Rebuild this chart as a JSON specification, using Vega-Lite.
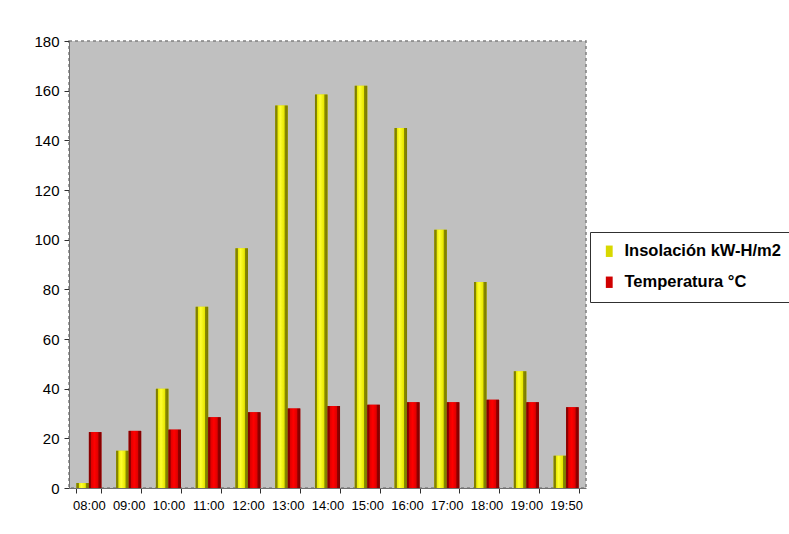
{
  "$schema": "https://vega.github.io/schema/vega-lite/v6.json",
  "width": 517,
  "height": 447,
  "autosize": "none",
  "padding": {"left": 69, "top": 41, "right": 203, "bottom": 46},
  "background": "white",
  "config": {
    "font": "Liberation Sans",
    "view": {"fill": "#C0C0C0", "stroke": "#808080", "strokeDash": [3, 3], "strokeWidth": 1.5},
    "axis": {"labelFont": "Liberation Sans", "labelColor": "black", "domainColor": "#707070", "tickColor": "#303030", "grid": false, "title": null}
  },
  "data": {"values": [
    {"hora": "08:00", "serie": "Insolación kW-H/m2", "valor": 2},
    {"hora": "09:00", "serie": "Insolación kW-H/m2", "valor": 15},
    {"hora": "10:00", "serie": "Insolación kW-H/m2", "valor": 40},
    {"hora": "11:00", "serie": "Insolación kW-H/m2", "valor": 73},
    {"hora": "12:00", "serie": "Insolación kW-H/m2", "valor": 96.5},
    {"hora": "13:00", "serie": "Insolación kW-H/m2", "valor": 154},
    {"hora": "14:00", "serie": "Insolación kW-H/m2", "valor": 158.5},
    {"hora": "15:00", "serie": "Insolación kW-H/m2", "valor": 162},
    {"hora": "16:00", "serie": "Insolación kW-H/m2", "valor": 145},
    {"hora": "17:00", "serie": "Insolación kW-H/m2", "valor": 104},
    {"hora": "18:00", "serie": "Insolación kW-H/m2", "valor": 83},
    {"hora": "19:00", "serie": "Insolación kW-H/m2", "valor": 47},
    {"hora": "19:50", "serie": "Insolación kW-H/m2", "valor": 13},
    {"hora": "08:00", "serie": "Temperatura °C", "valor": 22.5},
    {"hora": "09:00", "serie": "Temperatura °C", "valor": 23},
    {"hora": "10:00", "serie": "Temperatura °C", "valor": 23.5},
    {"hora": "11:00", "serie": "Temperatura °C", "valor": 28.5},
    {"hora": "12:00", "serie": "Temperatura °C", "valor": 30.5},
    {"hora": "13:00", "serie": "Temperatura °C", "valor": 32},
    {"hora": "14:00", "serie": "Temperatura °C", "valor": 33},
    {"hora": "15:00", "serie": "Temperatura °C", "valor": 33.5},
    {"hora": "16:00", "serie": "Temperatura °C", "valor": 34.5},
    {"hora": "17:00", "serie": "Temperatura °C", "valor": 34.5},
    {"hora": "18:00", "serie": "Temperatura °C", "valor": 35.5},
    {"hora": "19:00", "serie": "Temperatura °C", "valor": 34.5},
    {"hora": "19:50", "serie": "Temperatura °C", "valor": 32.5}
  ]},
  "encoding": {
    "x": {"field": "hora", "type": "nominal", "sort": null,
          "scale": {"paddingInner": 0.37, "paddingOuter": 0.185},
          "axis": {"labelAngle": 0, "labelFontSize": 13, "tickBand": "extent", "tickSize": 5, "labelPadding": 6, "domainColor": "#707070"}},
    "xOffset": {"field": "serie", "type": "nominal", "scale": {"paddingInner": 0, "paddingOuter": 0}},
    "y": {"field": "valor", "type": "quantitative",
          "scale": {"domain": [0, 180], "nice": false},
          "axis": {"values": [0, 20, 40, 60, 80, 100, 120, 140, 160, 180], "labelFontSize": 15, "tickSize": 5, "labelPadding": 5}}
  },
  "layer": [
    {
      "mark": {"type": "bar"},
      "encoding": {
        "color": {"field": "serie", "type": "nominal",
                  "scale": {"domain": ["Insolación kW-H/m2", "Temperatura °C"], "range": ["#D8D800", "#D00000"]},
                  "legend": {"title": null, "orient": "none", "legendX": 521, "legendY": 191,
                             "strokeColor": "#303030", "fillColor": "white", "padding": 11,
                             "labelFontSize": 16.5, "labelFontWeight": "bold", "labelColor": "black",
                             "labelFont": "Liberation Sans", "labelLimit": 400,
                             "symbolType": "M-0.6,-1L0.6,-1L0.6,1L-0.6,1Z", "symbolSize": 130, "symbolStrokeWidth": 0,
                             "rowPadding": 14, "labelOffset": 7}}
      }
    },
    {
      "transform": [{"filter": "datum.serie === 'Insolación kW-H/m2'"}],
      "mark": {"type": "bar", "fill": {"gradient": "linear", "x1": 0, "x2": 1, "y1": 0, "y2": 0,
        "stops": [
          {"offset": 0, "color": "#787800"},
          {"offset": 0.17, "color": "#8a8a00"},
          {"offset": 0.2, "color": "#e8e800"},
          {"offset": 0.4, "color": "#ffff30"},
          {"offset": 0.72, "color": "#e8e800"},
          {"offset": 0.78, "color": "#8a8a00"},
          {"offset": 1, "color": "#787800"}
        ]}}
    },
    {
      "transform": [{"filter": "datum.serie === 'Temperatura °C'"}],
      "mark": {"type": "bar", "fill": {"gradient": "linear", "x1": 0, "x2": 1, "y1": 0, "y2": 0,
        "stops": [
          {"offset": 0, "color": "#800000"},
          {"offset": 0.15, "color": "#900000"},
          {"offset": 0.2, "color": "#e00000"},
          {"offset": 0.45, "color": "#ff0000"},
          {"offset": 0.72, "color": "#e00000"},
          {"offset": 0.8, "color": "#900000"},
          {"offset": 1, "color": "#800000"}
        ]}}
    }
  ]
}
